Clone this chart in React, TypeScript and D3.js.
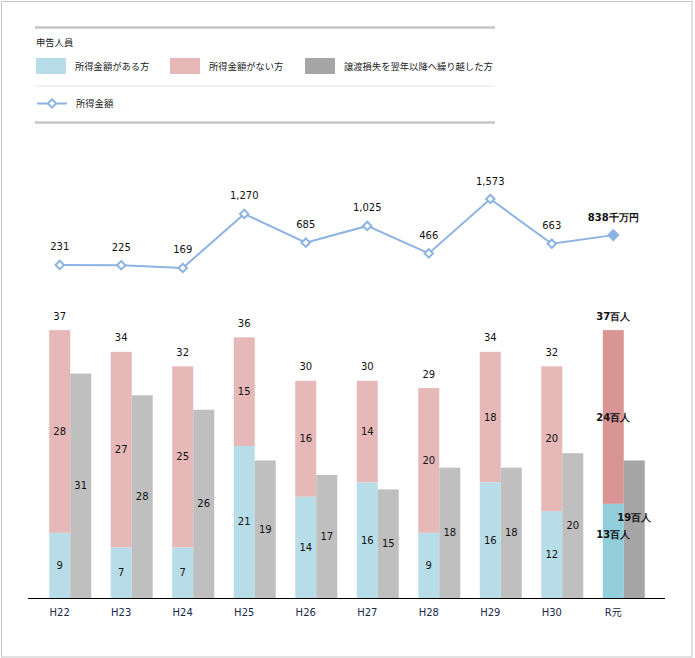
import React, { useEffect, useRef } from 'react';
import * as d3 from 'd3';

const categories = ['H22', 'H23', 'H24', 'H25', 'H26', 'H27', 'H28', 'H29', 'H30', 'R元'];
const withIncome = [9, 7, 7, 21, 14, 16, 9, 16, 12, 13];
const noIncome = [28, 27, 25, 15, 16, 14, 20, 18, 20, 24];
const totals = [37, 34, 32, 36, 30, 30, 29, 34, 32, 37];
const carriedOver = [31, 28, 26, 19, 17, 15, 18, 18, 20, 19];
const incomeAmount = [231, 225, 169, 1270, 685, 1025, 466, 1573, 663, 838];

const legendItems = ['所得金額がある方', '所得金額がない方', '譲渡損失を翌年以降へ繰り越した方'];

const WIDTH = 695;
const HEIGHT = 658;
const NUM_FONT = '"DejaVu Sans", Verdana, sans-serif';
const JP_FONT = '"Noto Sans CJK JP", sans-serif';

const colors = {
    blue: '#b7dee8',
    pink: '#e6b8b7',
    gray: '#bfbfbf',
    blueLast: '#92cddc',
    pinkLast: '#d99594',
    grayLast: '#a6a6a6',
    line: '#8db3e2',
};

const App: React.FC = () => {
    const svgRef = useRef<SVGSVGElement>(null);

    useEffect(() => {
        const svg = d3.select(svgRef.current);
        svg.selectAll('*').remove();

        // frame
        svg.append('rect')
            .attr('x', 1.5).attr('y', 1.5)
            .attr('width', 690.5).attr('height', 655.5)
            .attr('fill', 'white')
            .attr('stroke', '#c4c4c4');

        // legend block
        const lg = svg.append('g');
        lg.append('line').attr('x1', 35).attr('x2', 495).attr('y1', 27.5).attr('y2', 27.5)
            .attr('stroke', '#c6c6c6').attr('stroke-width', 2.5);
        lg.append('line').attr('x1', 35).attr('x2', 495).attr('y1', 86).attr('y2', 86)
            .attr('stroke', '#e2e2e2').attr('stroke-width', 1);
        lg.append('line').attr('x1', 35).attr('x2', 495).attr('y1', 122.5).attr('y2', 122.5)
            .attr('stroke', '#c6c6c6').attr('stroke-width', 2.5);

        lg.append('text').attr('x', 36).attr('y', 43).attr('dy', '0.35em')
            .style('font-family', JP_FONT).style('font-size', '9.3px')
            .attr('fill', '#222').text('申告人員');

        const swatchX = [36, 170, 305];
        const swatchColors = [colors.blue, colors.pink, colors.grayLast];
        legendItems.forEach((label, i) => {
            lg.append('rect').attr('x', swatchX[i]).attr('y', 58)
                .attr('width', 30).attr('height', 16).attr('fill', swatchColors[i]);
            lg.append('text').attr('x', swatchX[i] + 39).attr('y', 66.5).attr('dy', '0.35em')
                .style('font-family', JP_FONT).style('font-size', '9.3px')
                .attr('fill', '#222').text(label);
        });

        lg.append('line').attr('x1', 37).attr('x2', 67).attr('y1', 103.5).attr('y2', 103.5)
            .attr('stroke', colors.line).attr('stroke-width', 2);
        lg.append('path')
            .attr('d', d3.symbol().type(d3.symbolDiamond2).size(45)()!)
            .attr('transform', 'translate(52,103.5)')
            .attr('fill', 'white').attr('stroke', colors.line).attr('stroke-width', 2);
        lg.append('text').attr('x', 76).attr('y', 103.5).attr('dy', '0.35em')
            .style('font-family', JP_FONT).style('font-size', '9.3px')
            .attr('fill', '#222').text('所得金額');

        // scales
        const x0 = d3.scaleBand()
            .domain(categories)
            .range([39.5, 654.5])
            .paddingInner(0.317)
            .paddingOuter(0.158);
        const x1 = d3.scaleBand()
            .domain(['stack', 'carried'])
            .range([0, x0.bandwidth()]);

        const baseline = 598;
        const y = d3.scaleLinear().domain([0, 40]).range([baseline, baseline - 40 * 7.24]);
        const yLine = d3.scaleLinear().domain([0, 1573]).range([276.3, 199]);

        const isLast = (i: number) => i === categories.length - 1;
        const stackX = (i: number) => x0(categories[i])! + x1('stack')!;
        const carriedX = (i: number) => x0(categories[i])! + x1('carried')!;
        const bw = x1.bandwidth();

        const g = svg.append('g');

        // bars
        categories.forEach((c, i) => {
            g.append('rect')
                .attr('x', stackX(i)).attr('width', bw)
                .attr('y', y(withIncome[i])).attr('height', baseline - y(withIncome[i]))
                .attr('fill', isLast(i) ? colors.blueLast : colors.blue);
            g.append('rect')
                .attr('x', stackX(i)).attr('width', bw)
                .attr('y', y(withIncome[i] + noIncome[i]))
                .attr('height', y(withIncome[i]) - y(withIncome[i] + noIncome[i]))
                .attr('fill', isLast(i) ? colors.pinkLast : colors.pink);
            g.append('rect')
                .attr('x', carriedX(i)).attr('width', bw)
                .attr('y', y(carriedOver[i])).attr('height', baseline - y(carriedOver[i]))
                .attr('fill', isLast(i) ? colors.grayLast : colors.gray);
        });

        // bar labels
        const label = (tx: number, ty: number, text: string, bold = false) => {
            g.append('text')
                .attr('x', tx).attr('y', ty).attr('dy', '0.35em')
                .attr('text-anchor', 'middle')
                .style('font-family', bold ? `${NUM_FONT}` : NUM_FONT)
                .style('font-size', '10px')
                .style('font-weight', bold ? 'bold' : 'normal')
                .attr('fill', '#111')
                .text(text);
        };

        categories.forEach((c, i) => {
            const sc = stackX(i) + bw / 2;
            const cc = carriedX(i) + bw / 2;
            if (!isLast(i)) {
                label(sc, (y(0) + y(withIncome[i])) / 2, String(withIncome[i]));
                label(sc, (y(withIncome[i]) + y(totals[i])) / 2, String(noIncome[i]));
                label(cc, (y(0) + y(carriedOver[i])) / 2, String(carriedOver[i]));
                label(sc, y(totals[i]) - 14, String(totals[i]));
            } else {
                label(sc, (y(0) + y(withIncome[i])) / 2 - 16, `${withIncome[i]}百人`, true);
                label(sc, (y(withIncome[i]) + y(totals[i])) / 2, `${noIncome[i]}百人`, true);
                label(cc, (y(0) + y(carriedOver[i])) / 2 - 12, `${carriedOver[i]}百人`, true);
                label(sc, y(totals[i]) - 14, `${totals[i]}百人`, true);
            }
        });

        // x axis
        g.append('line')
            .attr('x1', 28).attr('x2', 665)
            .attr('y1', baseline + 0.5).attr('y2', baseline + 0.5)
            .attr('stroke', '#000').attr('stroke-width', 1.2);
        categories.forEach((c, i) => {
            g.append('text')
                .attr('x', stackX(i) + bw / 2).attr('y', 612).attr('dy', '0.35em')
                .attr('text-anchor', 'middle')
                .style('font-family', isLast(i) ? `${NUM_FONT}, ${JP_FONT}` : NUM_FONT)
                .style('font-size', '10px')
                .attr('fill', '#1a2a4a')
                .text(c);
        });

        // line series
        const pts = categories.map((c, i) => [stackX(i) + bw / 2, yLine(incomeAmount[i])] as [number, number]);
        g.append('path')
            .attr('d', d3.line()(pts)!)
            .attr('fill', 'none')
            .attr('stroke', colors.line)
            .attr('stroke-width', 2);

        pts.forEach((p, i) => {
            g.append('path')
                .attr('d', d3.symbol().type(d3.symbolDiamond2).size(isLast(i) ? 60 : 45)()!)
                .attr('transform', `translate(${p[0]},${p[1]})`)
                .attr('fill', isLast(i) ? colors.line : 'white')
                .attr('stroke', colors.line)
                .attr('stroke-width', 2);
            const txt = isLast(i) ? `${incomeAmount[i]}千万円` : d3.format(',')(incomeAmount[i]);
            label(p[0], p[1] - 18, txt, isLast(i));
        });
    }, []);

    return (
        <div style={{ position: 'absolute', left: 0, top: 0 }}>
            <svg ref={svgRef} width={WIDTH} height={HEIGHT} />
        </div>
    );
};

export default App;
